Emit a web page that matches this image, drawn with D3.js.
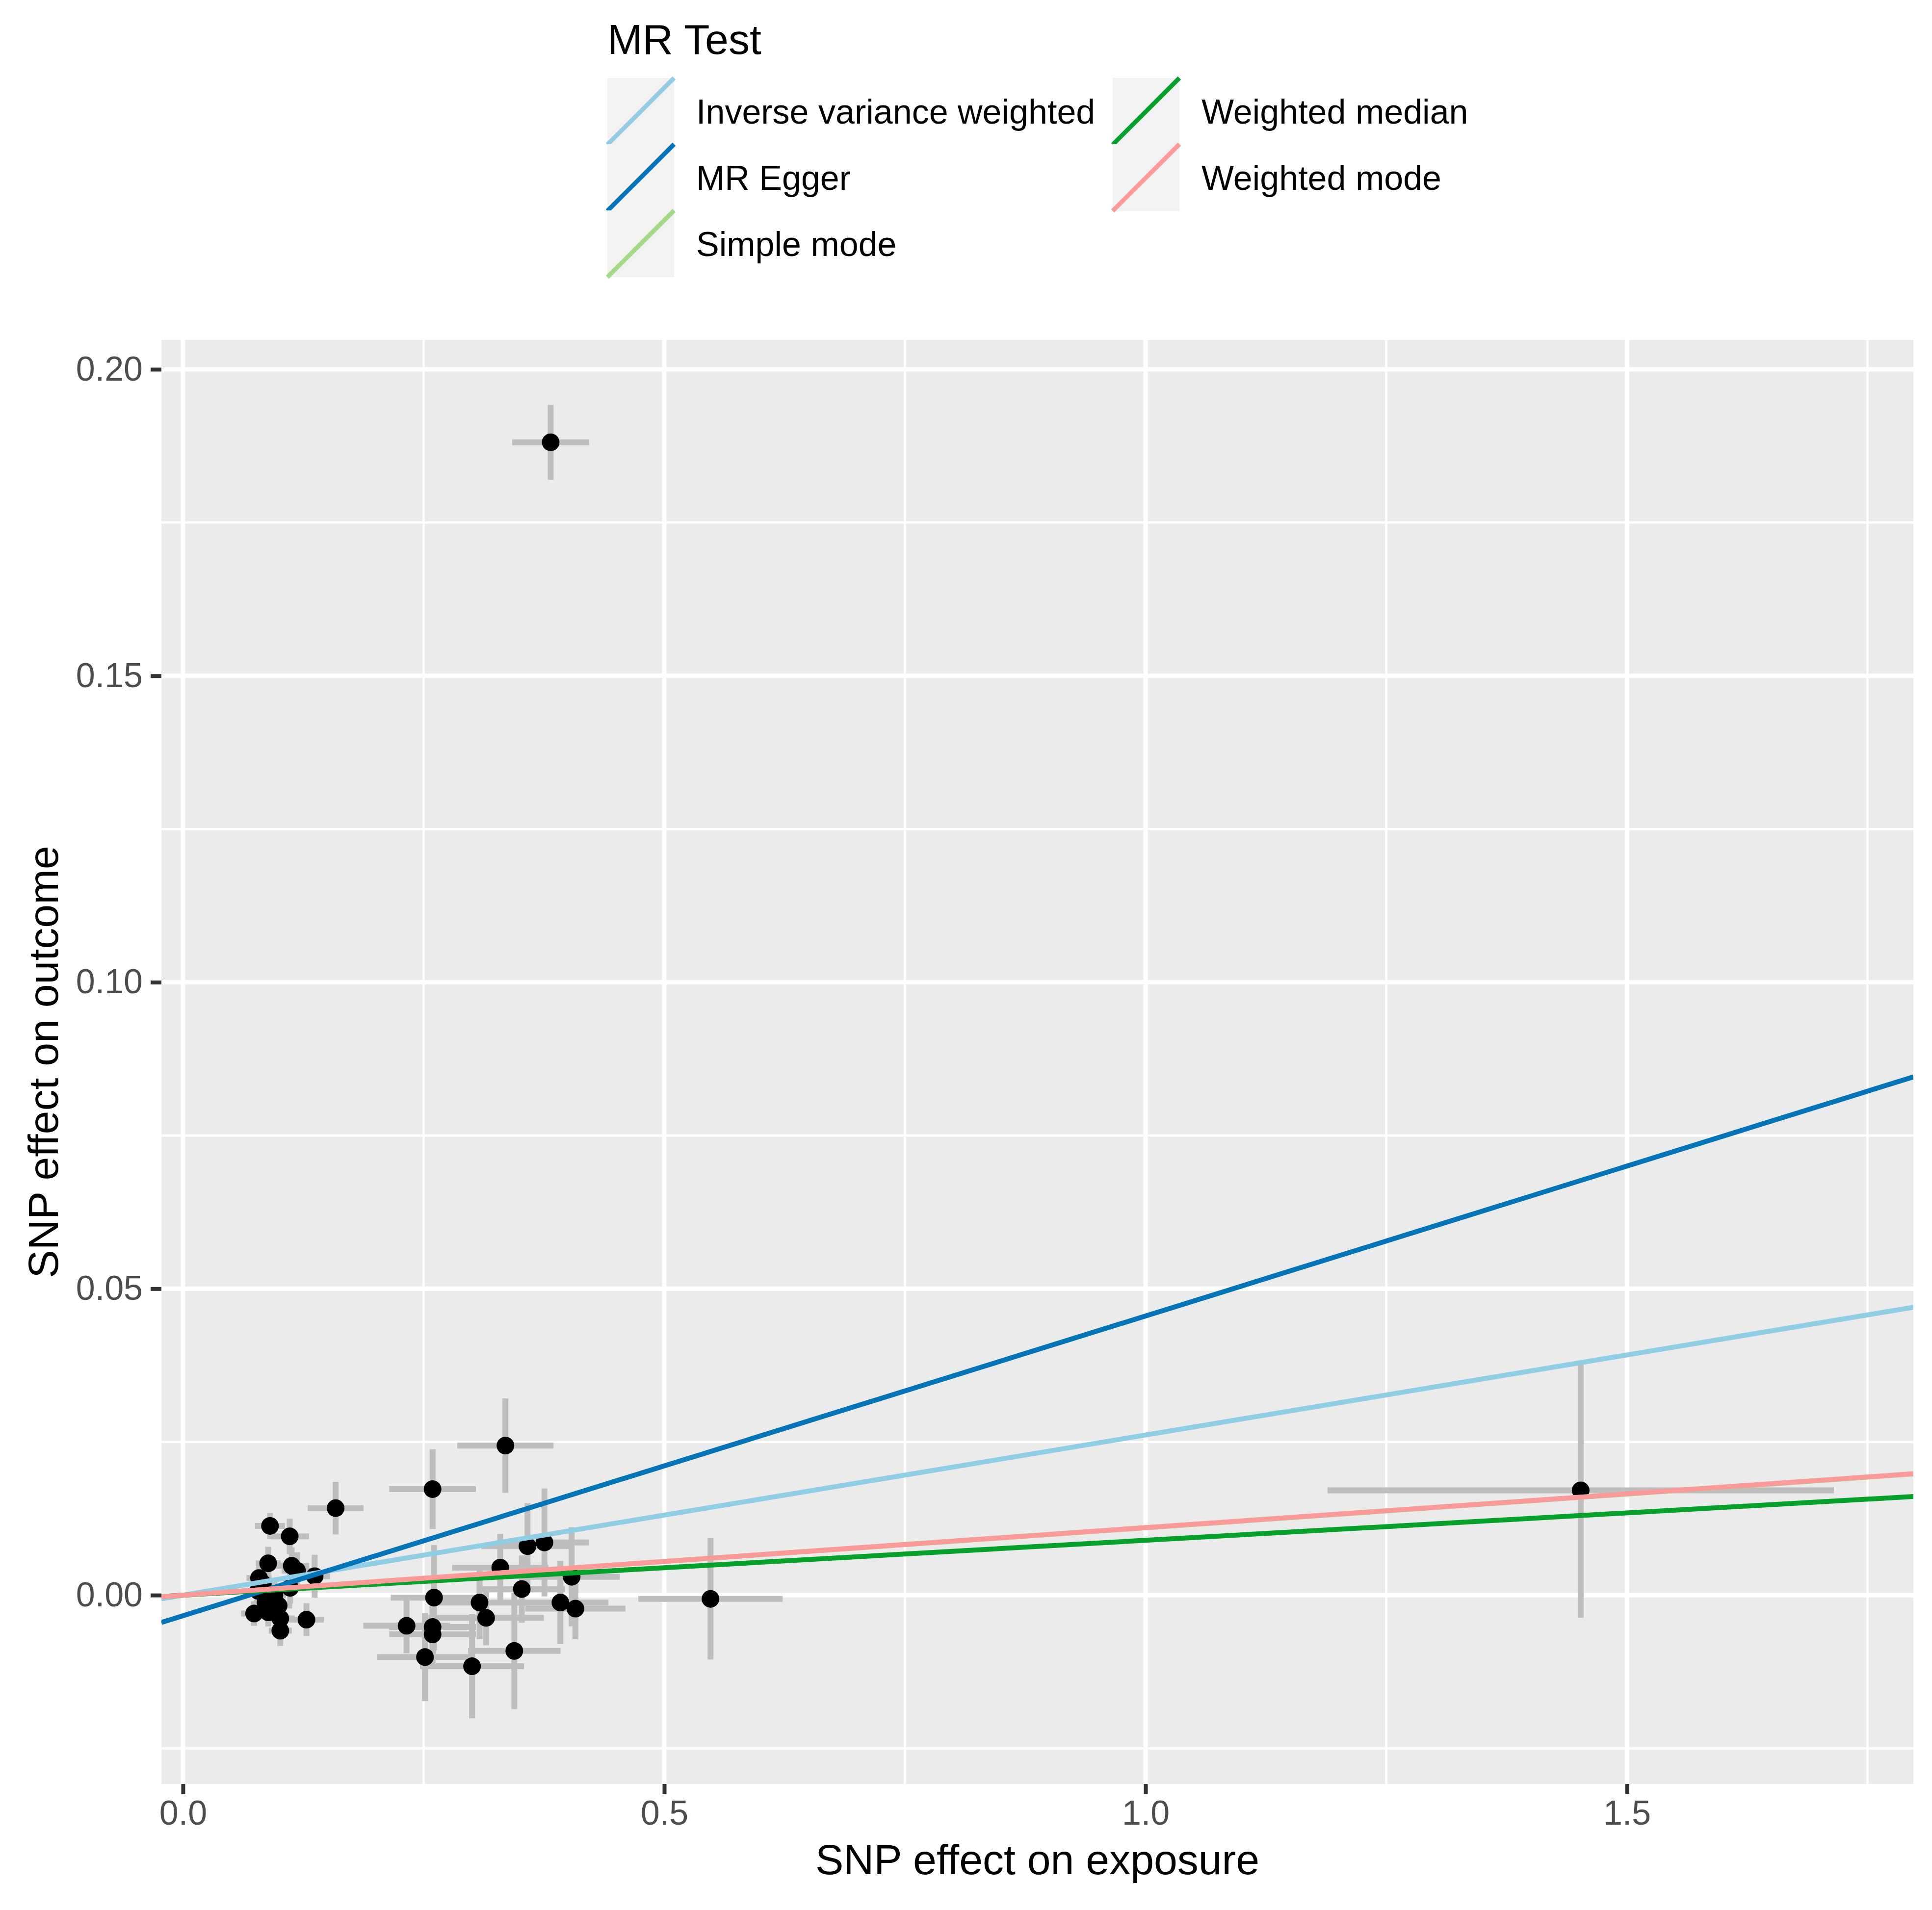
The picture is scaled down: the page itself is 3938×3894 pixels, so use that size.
<!DOCTYPE html>
<html>
<head>
<meta charset="utf-8">
<script src="https://cdn.jsdelivr.net/npm/d3@7"></script>
<style>
  body { margin: 0; background: #ffffff; }
  text { font-family: "Liberation Sans", Arial, sans-serif; }
</style>
</head>
<body>
<div id="chart"></div>
<script>
// SNP effects
const exposureBeta = [
  0.1586, 0.0904, 0.1109, 0.0885, 0.1130, 0.1185, 0.0790, 0.1368, 0.0830, 0.1113,
  0.0780, 0.0858, 0.0994, 0.0739, 0.0886, 0.1011, 0.1283, 0.1011, 0.0950,
  0.3350, 0.2593, 0.3579, 0.3755, 0.3296, 0.4038, 0.3520, 0.2608, 0.3081, 0.3921,
  0.4077, 0.3149, 0.2323, 0.2593, 0.2593, 0.2514, 0.3442, 0.3003, 0.5480,
  0.3820, 1.4520
];
const exposureSe = [
  0.029, 0.0155, 0.020, 0.013, 0.018, 0.016, 0.013, 0.016, 0.012, 0.013,
  0.011, 0.012, 0.014, 0.0136, 0.012, 0.015, 0.018, 0.012, 0.012,
  0.050, 0.045, 0.048, 0.046, 0.050, 0.050, 0.045, 0.045, 0.050, 0.050,
  0.052, 0.060, 0.045, 0.045, 0.045, 0.050, 0.048, 0.054, 0.075,
  0.040, 0.263
];
const outcomeBeta = [
  0.0142, 0.0113, 0.0096, 0.0052, 0.0048, 0.0040, 0.0028, 0.0031, 0.0019, 0.0012,
  0.0007, -0.0012, -0.0017, -0.0030, -0.0028, -0.0038, -0.0040, -0.0058, 0.0000,
  0.0244, 0.0173, 0.0080, 0.0086, 0.0045, 0.0030, 0.0010, -0.0004, -0.0012, -0.0012,
  -0.0022, -0.0037, -0.0050, -0.0052, -0.0064, -0.0101, -0.0091, -0.0116, -0.0006,
  0.1881, 0.0171
];
const outcomeSe = [
  0.0043, 0.0021, 0.0029, 0.0027, 0.0030, 0.0030, 0.0024, 0.0035, 0.0022, 0.0026,
  0.0022, 0.0024, 0.0026, 0.0020, 0.0023, 0.0025, 0.0027, 0.0025, 0.0022,
  0.0077, 0.0065, 0.0070, 0.0088, 0.0055, 0.0081, 0.0055, 0.0086, 0.0060, 0.0068,
  0.0050, 0.0045, 0.0045, 0.0045, 0.0050, 0.0072, 0.0095, 0.0085, 0.0099,
  0.0061, 0.0208
];

// MR methods: fitted lines y = intercept + slope * x
const methodNames = ["Inverse variance weighted", "MR Egger", "Simple mode", "Weighted median", "Weighted mode"];
const methodSlopes = [0.02613, 0.04891, 0.01100, 0.00895, 0.01102];
const methodIntercepts = [0, -0.00336, 0, 0, 0];
const methodColors = ["#92cde6", "#0474b8", "#a3dc88", "#06a02b", "#fb9a99"];

const xTicks = [0, 0.5, 1.0, 1.5];
const xMinorTicks = [0.25, 0.75, 1.25, 1.75];
const yTicks = [0, 0.05, 0.10, 0.15, 0.20];
const yMinorTicks = [-0.025, 0.025, 0.075, 0.125, 0.175];

const width = 3938;
const height = 3894;
const panel = { left: 329, right: 3900, top: 693, bottom: 3637 };

const snps = exposureBeta.map((d, i) => ({
  bx: d, sx: exposureSe[i], by: outcomeBeta[i], sy: outcomeSe[i]
}));

const svg = d3.select("#chart")
  .append("svg")
  .attr("width", width)
  .attr("height", height);

const x = d3.scaleLinear().domain([-0.0224, 1.7976]).range([panel.left, panel.right]);
const y = d3.scaleLinear().domain([-0.0308, 0.2048]).range([panel.bottom, panel.top]);

svg.append("defs").append("clipPath")
  .attr("id", "panel-clip")
  .append("rect")
  .attr("x", panel.left)
  .attr("y", panel.top)
  .attr("width", panel.right - panel.left)
  .attr("height", panel.bottom - panel.top);

// panel background
svg.append("rect")
  .attr("x", panel.left)
  .attr("y", panel.top)
  .attr("width", panel.right - panel.left)
  .attr("height", panel.bottom - panel.top)
  .attr("fill", "#ebebeb");

const grid = svg.append("g");
grid.selectAll(".xminor").data(xMinorTicks).enter().append("line")
  .attr("x1", (d) => x(d)).attr("x2", (d) => x(d))
  .attr("y1", panel.top).attr("y2", panel.bottom)
  .attr("stroke", "#ffffff").attr("stroke-width", 4.5);
grid.selectAll(".yminor").data(yMinorTicks).enter().append("line")
  .attr("y1", (d) => y(d)).attr("y2", (d) => y(d))
  .attr("x1", panel.left).attr("x2", panel.right)
  .attr("stroke", "#ffffff").attr("stroke-width", 4.5);
grid.selectAll(".xmajor").data(xTicks).enter().append("line")
  .attr("x1", (d) => x(d)).attr("x2", (d) => x(d))
  .attr("y1", panel.top).attr("y2", panel.bottom)
  .attr("stroke", "#ffffff").attr("stroke-width", 9);
grid.selectAll(".ymajor").data(yTicks).enter().append("line")
  .attr("y1", (d) => y(d)).attr("y2", (d) => y(d))
  .attr("x1", panel.left).attr("x2", panel.right)
  .attr("stroke", "#ffffff").attr("stroke-width", 9);

const plot = svg.append("g").attr("clip-path", "url(#panel-clip)");

// error bars
plot.selectAll(".vbar").data(snps).enter().append("line")
  .attr("x1", (d) => x(d.bx)).attr("x2", (d) => x(d.bx))
  .attr("y1", (d) => y(d.by - d.sy)).attr("y2", (d) => y(d.by + d.sy))
  .attr("stroke", "#bebebe").attr("stroke-width", 12);
plot.selectAll(".hbar").data(snps).enter().append("line")
  .attr("y1", (d) => y(d.by)).attr("y2", (d) => y(d.by))
  .attr("x1", (d) => x(d.bx - d.sx)).attr("x2", (d) => x(d.bx + d.sx))
  .attr("stroke", "#bebebe").attr("stroke-width", 12);

plot.selectAll(".snp").data(snps).enter().append("circle")
  .attr("cx", (d) => x(d.bx))
  .attr("cy", (d) => y(d.by))
  .attr("r", 18)
  .attr("fill", "#000000");

// fitted MR lines
const [x0, x1] = x.domain();
plot.selectAll(".mrline").data(methodNames).enter().append("line")
  .attr("x1", x(x0))
  .attr("x2", x(x1))
  .attr("y1", (d, i) => y(methodIntercepts[i] + methodSlopes[i] * x0))
  .attr("y2", (d, i) => y(methodIntercepts[i] + methodSlopes[i] * x1))
  .attr("stroke", (d, i) => methodColors[i])
  .attr("stroke-width", 10);

// axes
const xAxis = svg.append("g")
  .attr("transform", `translate(0,${panel.bottom})`)
  .call(d3.axisBottom(x).tickValues(xTicks).tickFormat(d3.format(".1f")).tickSize(21).tickPadding(12));
const yAxis = svg.append("g")
  .attr("transform", `translate(${panel.left},0)`)
  .call(d3.axisLeft(y).tickValues(yTicks).tickFormat(d3.format(".2f")).tickSize(22).tickPadding(16));

[xAxis, yAxis].forEach((ax) => {
  ax.select(".domain").remove();
  ax.selectAll(".tick line").attr("stroke", "#333333").attr("stroke-width", 8);
  ax.selectAll(".tick text")
    .attr("fill", "#4d4d4d")
    .style("font-size", "70px")
    .style("font-family", '"Liberation Sans", Arial, sans-serif');
});

svg.append("text")
  .attr("x", (panel.left + panel.right) / 2)
  .attr("y", 3821)
  .attr("text-anchor", "middle")
  .style("font-size", "86px")
  .text("SNP effect on exposure");

svg.append("text")
  .attr("transform", `translate(118,${(panel.top + panel.bottom) / 2}) rotate(-90)`)
  .attr("text-anchor", "middle")
  .style("font-size", "86px")
  .text("SNP effect on outcome");

// legend, two columns filled top to bottom
const legend = svg.append("g");
legend.append("text")
  .attr("x", 1238)
  .attr("y", 110)
  .style("font-size", "86px")
  .text("MR Test");

const keySize = 136;
const legendItems = legend.selectAll(".legend-item")
  .data(methodNames)
  .enter()
  .append("g")
  .attr("transform", (d, i) => `translate(${i < 3 ? 1238 : 2268},${159 + (i % 3) * 135})`);

legendItems.append("rect")
  .attr("width", keySize)
  .attr("height", keySize)
  .attr("fill", "#f2f2f2");

legendItems.append("line")
  .attr("x1", 0).attr("y1", keySize)
  .attr("x2", keySize).attr("y2", 0)
  .attr("stroke", (d, i) => methodColors[i])
  .attr("stroke-width", 9);

legendItems.append("text")
  .attr("x", 181)
  .attr("y", keySize / 2 + 25)
  .style("font-size", "70px")
  .text((d) => d);
</script>
</body>
</html>
